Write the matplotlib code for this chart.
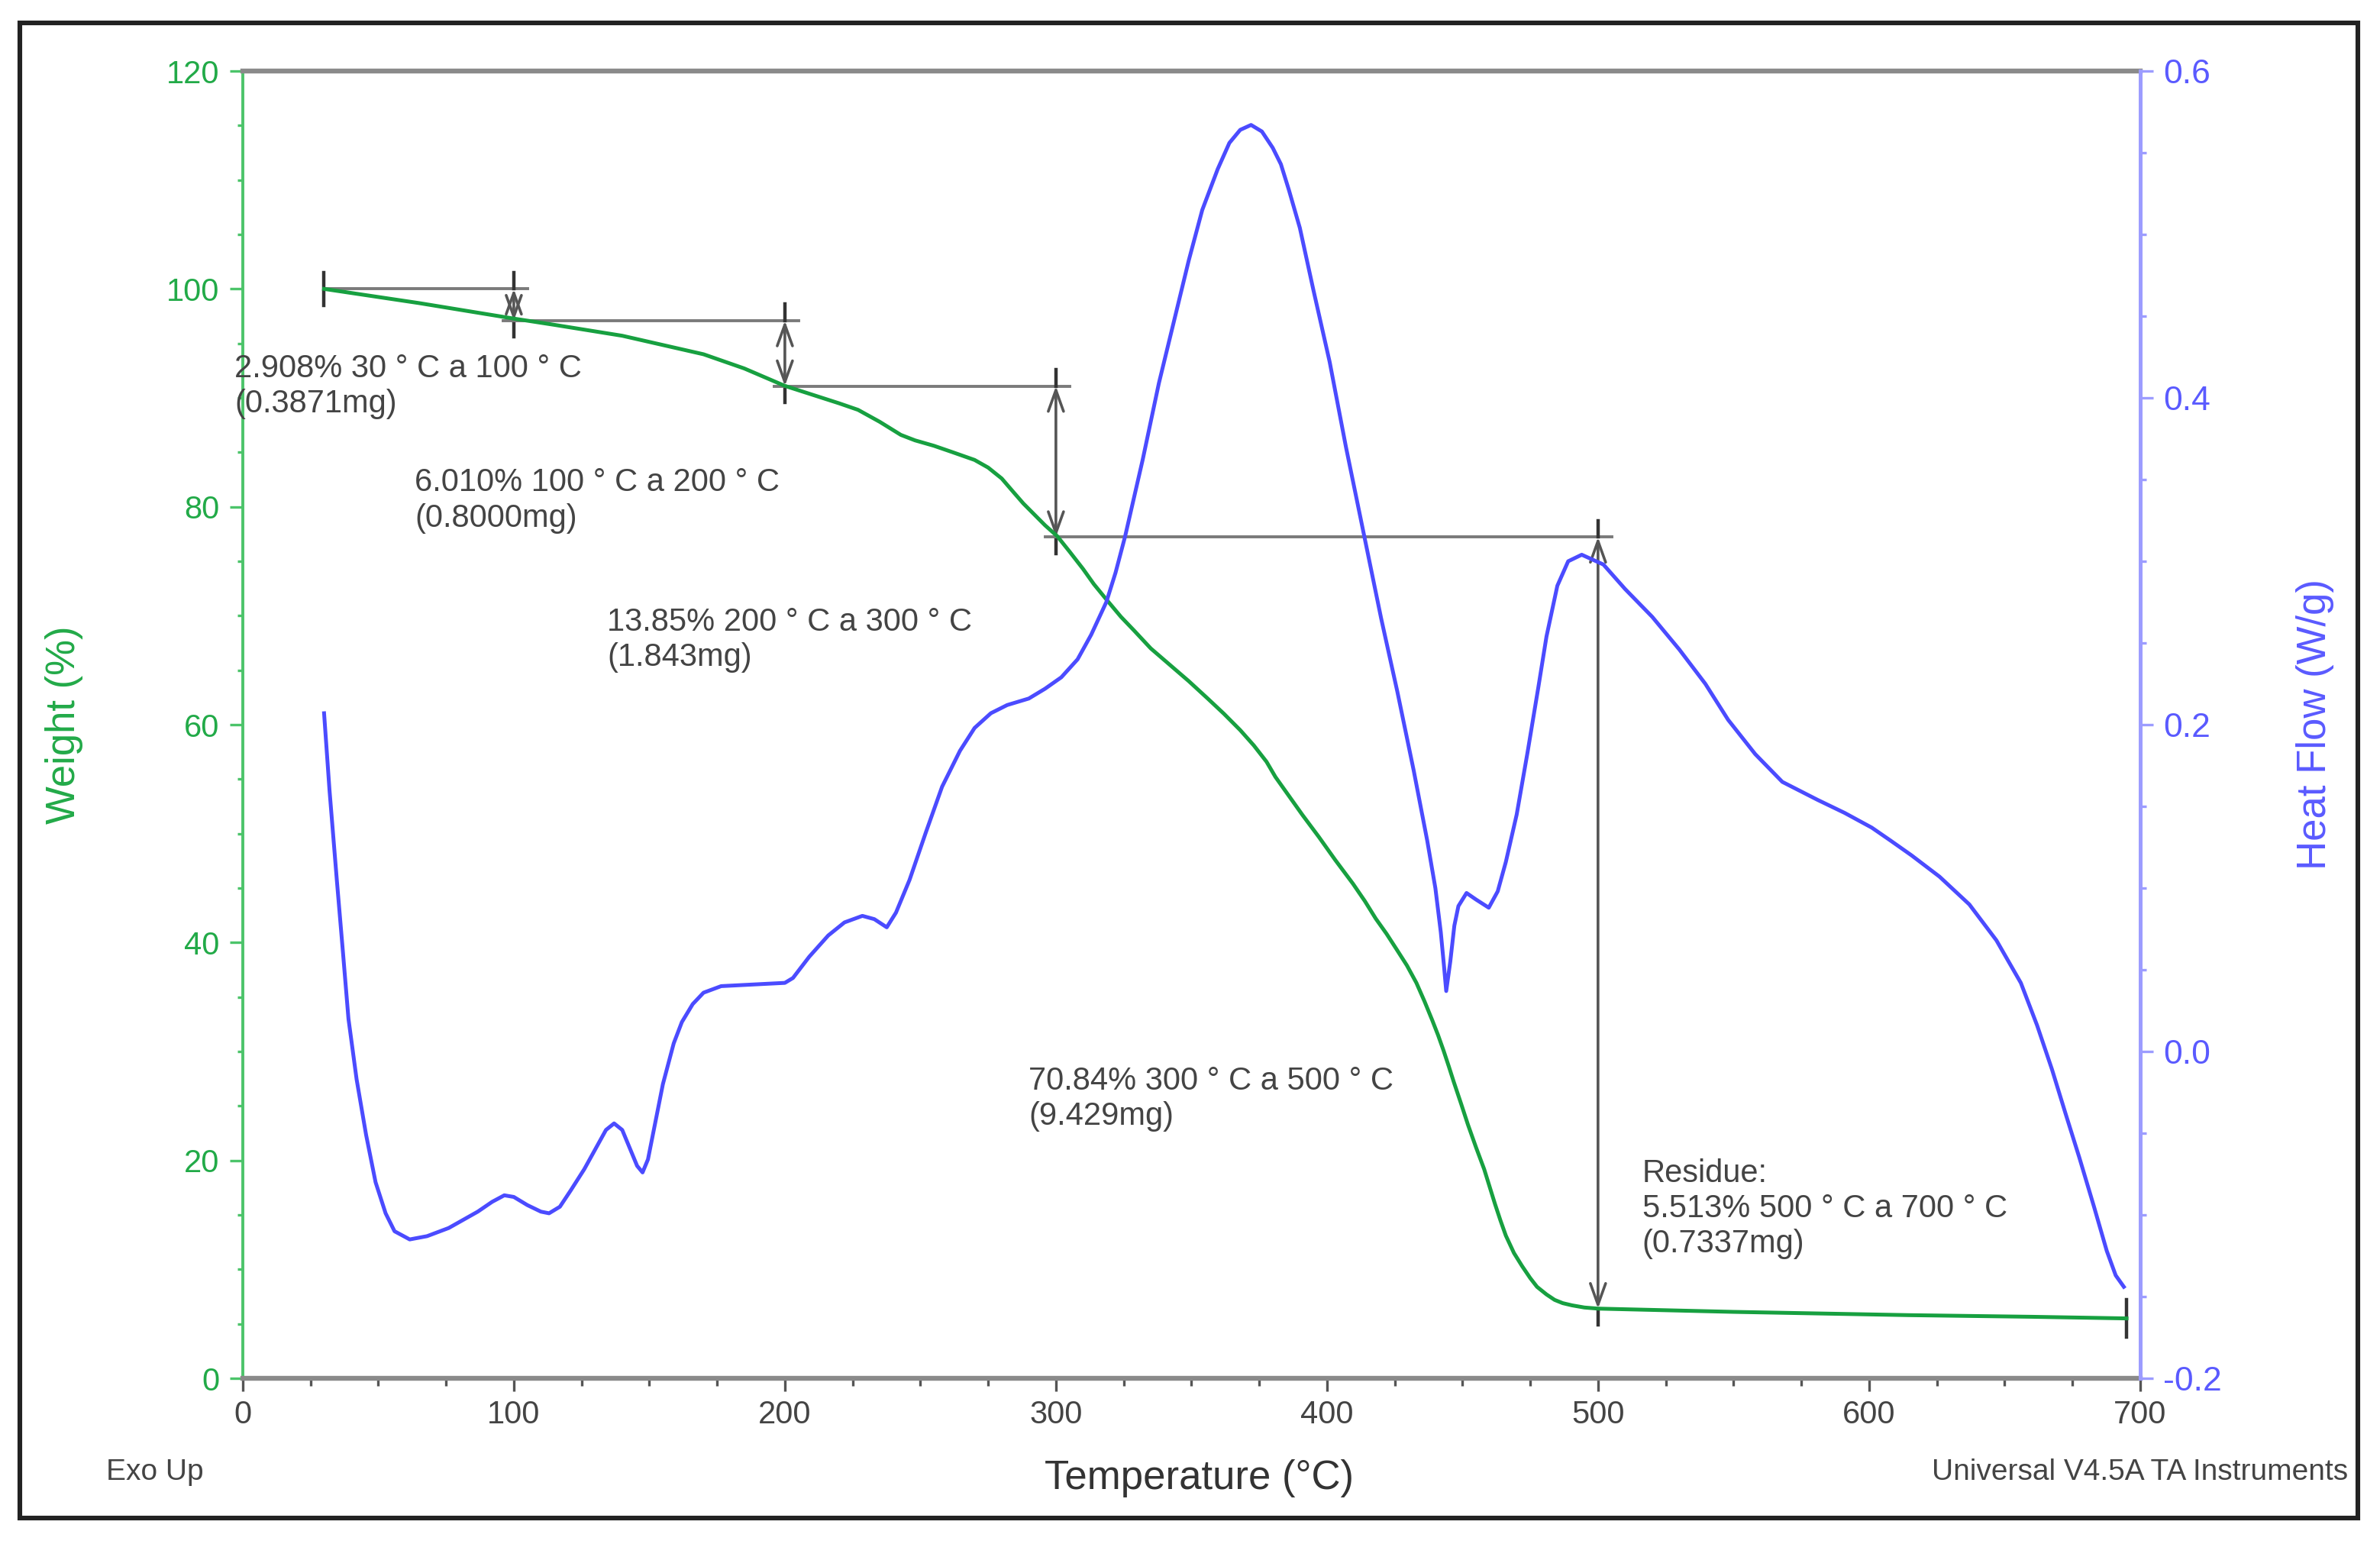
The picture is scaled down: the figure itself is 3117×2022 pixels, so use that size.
import matplotlib
matplotlib.use('Agg')
import matplotlib.pyplot as plt
from matplotlib.ticker import MultipleLocator, FormatStrFormatter
from matplotlib.patches import Rectangle

plt.rcParams['font.family'] = ['Liberation Sans', 'DejaVu Sans']

# weight curve (TGA)
temp_w = [30, 65, 99.4, 115, 140, 170, 185, 200, 210, 220, 227, 235, 242.8, 248, 255, 262,
          270, 275, 280, 284.5, 288, 292, 296, 300.5, 305, 310, 314, 318.6, 324, 329, 335,
          342, 349, 356, 362, 368, 373, 377.7, 381, 385, 391, 397, 403, 409.6, 414, 418,
          422, 425.9, 429.5, 433, 436, 438.8, 441, 443, 445, 446.8, 449.5, 452, 455, 458,
          460, 462, 464, 466, 469, 472, 475, 477.5, 481, 484, 487, 490.4, 495, 500, 550,
          614.6, 660, 695]
weight = [100.0, 98.7, 97.3, 96.7, 95.7, 94.0, 92.7, 91.1, 90.3, 89.5, 88.9, 87.8, 86.6,
          86.1, 85.6, 85.0, 84.3, 83.6, 82.6, 81.3, 80.3, 79.3, 78.3, 77.3, 75.9, 74.3, 72.9,
          71.5, 69.9, 68.6, 67.0, 65.5, 64.0, 62.4, 61.0, 59.5, 58.1, 56.6, 55.2, 53.8, 51.7,
          49.7, 47.6, 45.4, 43.8, 42.2, 40.8, 39.3, 37.9, 36.3, 34.6, 32.9, 31.5, 30.1, 28.6,
          27.2, 25.2, 23.3, 21.2, 19.2, 17.6, 16.0, 14.5, 13.1, 11.5, 10.3, 9.2, 8.4, 7.7,
          7.2, 6.9, 6.7, 6.5, 6.4, 6.1, 5.8, 5.65, 5.5]

# heat flow curve (DSC)
temp_h = [30, 32, 34.7, 37, 39, 42, 45.5, 49, 52.7, 56, 61.6, 68, 76, 86.7, 92, 96.5, 100,
          105, 110, 113, 117, 121, 126, 131, 134, 137, 140, 143, 145.5, 147.5, 149.5, 152,
          155, 159, 162, 166, 170, 176.5, 188, 200, 203, 209, 216, 222, 228.6, 233, 237.6,
          241, 246, 252, 258, 264.6, 270, 276, 282, 290, 296, 302, 308, 313, 318.6, 322,
          325.5, 332, 338, 344, 349, 354, 359.7, 364, 368, 372, 376, 380, 383, 386, 390,
          395, 401, 407, 413.8, 420, 426, 432, 437, 440, 442, 443.2, 444, 445.5, 447,
          448.5, 451.5, 455, 459.7, 463, 466, 470, 474, 478, 481, 485, 489, 494, 498, 502,
          510, 520, 530, 539.6, 548, 558, 568, 581, 591, 601, 608, 615.7, 626, 637, 647,
          656, 662, 667.5, 672.5, 677.6, 683, 687.7, 691, 694]
heat = [0.207, 0.160, 0.105, 0.060, 0.020, -0.017, -0.051, -0.080, -0.099, -0.110, -0.115,
        -0.113, -0.108, -0.098, -0.092, -0.088, -0.089, -0.094, -0.098, -0.099, -0.095,
        -0.085, -0.072, -0.057, -0.048, -0.044, -0.048, -0.060, -0.070, -0.074, -0.066,
        -0.045, -0.020, 0.005, 0.018, 0.029, 0.036, 0.040, 0.041, 0.042, 0.045, 0.058,
        0.071, 0.079, 0.083, 0.081, 0.076, 0.085, 0.105, 0.134, 0.162, 0.184, 0.198, 0.207,
        0.212, 0.216, 0.222, 0.229, 0.240, 0.255, 0.275, 0.293, 0.315, 0.362, 0.409, 0.450,
        0.484, 0.515, 0.540, 0.556, 0.564, 0.567, 0.563, 0.553, 0.543, 0.527, 0.504, 0.466,
        0.422, 0.370, 0.315, 0.265, 0.220, 0.172, 0.129, 0.100, 0.073, 0.052, 0.037, 0.055,
        0.077, 0.089, 0.097, 0.093, 0.088, 0.098, 0.116, 0.145, 0.183, 0.223, 0.254, 0.285,
        0.300, 0.304, 0.301, 0.298, 0.283, 0.266, 0.246, 0.225, 0.203, 0.182, 0.165, 0.154,
        0.146, 0.137, 0.129, 0.120, 0.107, 0.090, 0.068, 0.042, 0.016, -0.011, -0.038,
        -0.065, -0.095, -0.122, -0.137, -0.144]

# step analysis
step_t = [30, 100, 200, 300, 500]
step_w = [100.0, 97.09, 91.08, 77.23, 6.39]
residue_t = 695
residue_w = 5.5

labels = ['2.908% 30 ° C a 100 ° C\n(0.3871mg)',
          '6.010% 100 ° C a 200 ° C\n(0.8000mg)',
          '13.85% 200 ° C a 300 ° C\n(1.843mg)',
          '70.84% 300 ° C a 500 ° C\n(9.429mg)',
          'Residue:\n5.513% 500 ° C a 700 ° C\n(0.7337mg)']
label_x = [-3, 63.5, 134.4, 290, 516.3]
label_y = [94.1, 83.6, 70.8, 28.7, 20.2]

green = '#17a040'
green_ax = '#4cc46a'
blue = '#4b4bff'
blue_ax = '#9c9cff'
gray = '#8a8a8a'
txt = '#444444'

fig = plt.figure(figsize=(15.585, 10.11), dpi=200)
ax = fig.add_axes([0.102, 0.1073, 0.7972, 0.8467])
ax2 = ax.twinx()

ax.plot(temp_w, weight, color=green, lw=1.8, zorder=3, solid_joinstyle='round')
ax2.plot(temp_h, heat, color=blue, lw=1.8, zorder=3, solid_joinstyle='round')

# horizontal step lines with the arrows between levels
for i in range(len(step_t) - 1):
    x0 = step_t[i] if i == 0 else step_t[i] - 4
    ax.plot([x0, step_t[i + 1] + 5], [step_w[i], step_w[i]], color='#7a7a7a', lw=1.4, zorder=2)
    ax.annotate('', xy=(step_t[i + 1], step_w[i + 1]), xytext=(step_t[i + 1], step_w[i]),
                arrowprops=dict(arrowstyle='<->,head_length=0.5,head_width=0.18',
                                color='#555555', lw=1.3, shrinkA=0, shrinkB=0,
                                mutation_scale=20), zorder=2)
    ax.plot([step_t[i + 1]] * 2, [step_w[i] + 1.5, step_w[i]], color='#333333', lw=1.6, zorder=2)
    ax.plot([step_t[i + 1]] * 2, [step_w[i + 1], step_w[i + 1] - 1.5], color='#333333', lw=1.6,
            zorder=2)
ax.plot([step_t[0]] * 2, [step_w[0] + 1.5, step_w[0] - 1.5], color='#333333', lw=1.6, zorder=2)
ax.plot([residue_t] * 2, [residue_w + 1.7, residue_w - 1.7], color='#333333', lw=1.6, zorder=2)

for s, x, y in zip(labels, label_x, label_y):
    ax.text(x, y, s, fontsize=15, color=txt, ha='left', va='top', linespacing=1.2, zorder=4)

ax.set_xlim(0, 700)
ax.set_ylim(0, 120)
ax2.set_ylim(-0.2, 0.6)

ax.xaxis.set_major_locator(MultipleLocator(100))
ax.xaxis.set_minor_locator(MultipleLocator(25))
ax.yaxis.set_major_locator(MultipleLocator(20))
ax.yaxis.set_minor_locator(MultipleLocator(5))
ax2.yaxis.set_major_locator(MultipleLocator(0.2))
ax2.yaxis.set_minor_locator(MultipleLocator(0.05))
ax2.yaxis.set_major_formatter(FormatStrFormatter('%.1f'))

for side in ['top', 'bottom']:
    ax.spines[side].set_color(gray)
    ax.spines[side].set_linewidth(2.3)
ax.spines['left'].set_color(green_ax)
ax.spines['left'].set_linewidth(1.4)
ax.spines['right'].set_visible(False)
for side in ['top', 'bottom', 'left']:
    ax2.spines[side].set_visible(False)
ax2.spines['right'].set_color(blue_ax)
ax2.spines['right'].set_linewidth(1.8)

ax.tick_params(axis='x', which='major', length=6, width=1.2, color='#555555', labelsize=15,
               labelcolor=txt, pad=4)
ax.tick_params(axis='x', which='minor', length=3.5, width=1.2, color='#555555')
ax.tick_params(axis='y', which='major', length=6, width=1.2, color=green_ax, labelsize=15,
               labelcolor='#22aa48', pad=5)
ax.tick_params(axis='y', which='minor', length=2.5, width=1.2, color=green_ax)
ax2.tick_params(axis='y', which='major', length=6, width=1.2, color=blue_ax, labelsize=16,
                labelcolor='#5a5aff', pad=5)
ax2.tick_params(axis='y', which='minor', length=3, width=1.2, color=blue_ax)

ax.set_xlabel('Temperature (°C)', fontsize=19, color='#333333')
ax.xaxis.set_label_coords(0.504, -0.062)
ax.set_ylabel('Weight (%)', fontsize=19, color='#22aa48')
ax.yaxis.set_label_coords(-0.084, 0.5)
ax2.set_ylabel('Heat Flow (W/g)', fontsize=19, color='#5a5aff')
ax2.yaxis.set_label_coords(1.082, 0.5)

fig.text(0.0446, 0.0465, 'Exo Up', fontsize=14, color=txt, ha='left', va='center')
fig.text(0.9866, 0.0465, 'Universal V4.5A TA Instruments', fontsize=14, color=txt,
         ha='right', va='center')

fig.patches.append(Rectangle((0.0083, 0.0168), 0.9824, 0.9684, transform=fig.transFigure,
                             fill=False, edgecolor='#222222', lw=2.2))

fig.savefig('out.png', dpi=200)
